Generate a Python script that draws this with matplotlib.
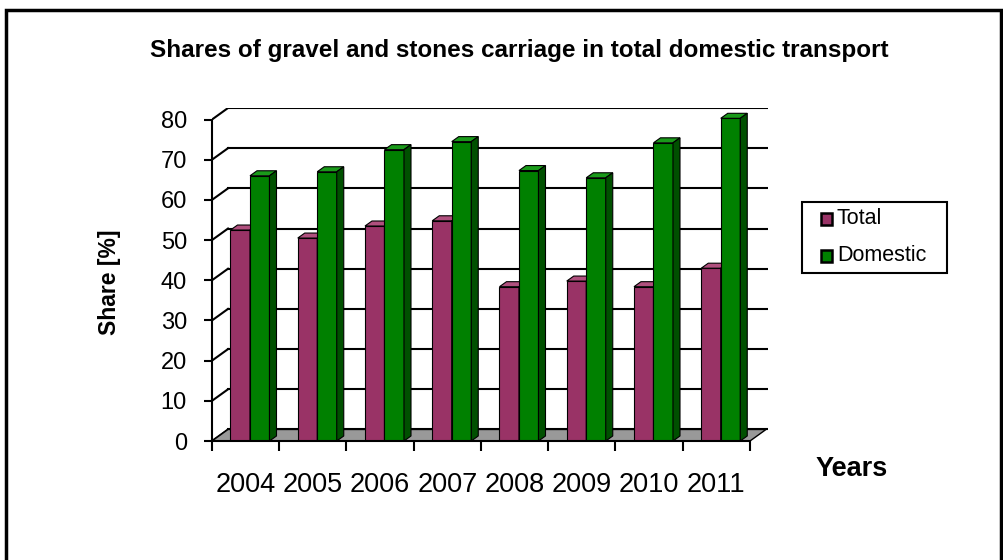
import matplotlib
matplotlib.use("Agg")
import matplotlib.pyplot as plt
from matplotlib.patches import Polygon, Rectangle
from matplotlib.lines import Line2D

plt.rcParams["font.family"] = ["Liberation Sans", "DejaVu Sans"]

# data
years = ["2004", "2005", "2006", "2007", "2008", "2009", "2010", "2011"]
total = [52.5, 50.5, 53.5, 54.8, 38.4, 39.8, 38.4, 43.0]
domestic = [66.0, 67.0, 72.5, 74.5, 67.3, 65.5, 74.2, 80.3]
y_ticks = [0, 10, 20, 30, 40, 50, 60, 70, 80]
series_names = ["Total", "Domestic"]

# colours (front, top, side)
pink = ("#993366", "#b0507e", "#6e2449")
green = ("#008000", "#1a9a1a", "#005000")
floor_col = "#999999"

W, H = 1004, 560
fig = plt.figure(figsize=(W / 100, H / 100), dpi=100)

# axes box placed in pixels: left 212, right 768, front floor at 441, top 108
px_l, px_r, px_b, px_t = 212, 768, 441, 108
ax = fig.add_axes([px_l / W, (H - px_b) / H, (px_r - px_l) / W, (px_b - px_t) / H])

n = len(years)
xpu = (750 - 212) / n          # pixels per category
ypu = (441 - 120) / 80.0       # pixels per percent
dx, dy = 16 / xpu, 11.5 / ypu  # wall depth in data units
bdx, bdy = 7 / xpu, 5 / ypu    # bar depth in data units
bw = 0.29
xmax = n - 0.5 + (px_r - 750) / xpu

ax.set_xlim(-0.5, xmax)
ax.set_ylim(0, 80 + dy)

# back wall gridlines + left wall diagonals
for v in y_ticks:
    ax.add_line(Line2D([-0.5 + dx, xmax], [v + dy, v + dy], color="black", lw=1.5, zorder=1))
    ax.add_line(Line2D([-0.5, -0.5 + dx], [v, v + dy], color="black", lw=1.5, zorder=1))

# floor
ax.add_patch(Polygon([(-0.5, 0), (n - 0.5, 0), (n - 0.5 + dx, dy), (-0.5 + dx, dy)],
                     closed=True, facecolor=floor_col, edgecolor="black", lw=1, zorder=2))


def bar3d(x0, h, cols):
    ax.add_patch(Rectangle((x0, 0), bw, h, facecolor=cols[0], edgecolor="black", lw=0.8, zorder=3))
    ax.add_patch(Polygon([(x0, h), (x0 + bw, h), (x0 + bw + bdx, h + bdy), (x0 + bdx, h + bdy)],
                         closed=True, facecolor=cols[1], edgecolor="black", lw=0.8, zorder=3))
    ax.add_patch(Polygon([(x0 + bw, 0), (x0 + bw + bdx, bdy), (x0 + bw + bdx, h + bdy), (x0 + bw, h)],
                         closed=True, facecolor=cols[2], edgecolor="black", lw=0.8, zorder=3))


for i in range(n):
    bar3d(i - 0.08 - bw / 2, total[i], pink)
    bar3d(i - 0.08 + bw / 2, domestic[i], green)

# axes lines and ticks
for s in ["top", "right"]:
    ax.spines[s].set_visible(False)
ax.spines["left"].set_bounds(0, 80)
ax.spines["bottom"].set_bounds(-0.5, n - 0.5)
for s in ["left", "bottom"]:
    ax.spines[s].set_linewidth(1.5)
    ax.spines[s].set_zorder(4)

ax.set_yticks(y_ticks)
ax.set_yticklabels([str(v) for v in y_ticks], fontsize=17)
ax.tick_params(axis="y", length=6, width=1.5, pad=12)

ax.set_xticks([i - 0.5 for i in range(n + 1)])
ax.set_xticklabels([])
ax.set_xticks(range(n), minor=True)
ax.set_xticklabels(years, minor=True, fontsize=19.5)
ax.tick_params(axis="x", which="major", length=7, width=1.5)
ax.tick_params(axis="x", which="minor", length=0, pad=22)

ax.set_facecolor("none")

# titles
fig.text(0.517, 1 - 50 / H, "Shares of gravel and stones carriage in total domestic transport",
         ha="center", va="center", fontsize=17.5, fontweight="bold")
fig.text(110 / W, 1 - 282 / H, "Share [%]", rotation=90, ha="center", va="center",
         fontsize=16.5, fontweight="bold")
fig.text(852 / W, 1 - 469 / H, "Years", ha="center", va="center", fontsize=19.5, fontweight="bold")

# legend, laid out like the Excel one (frame, small squares, labels)
fig.patches.append(Rectangle((802 / W, 1 - 273 / H), 145 / W, 71 / H, transform=fig.transFigure,
                             fill=False, edgecolor="black", lw=1.5))
for k, (name, cols) in enumerate(zip(series_names, [pink, green])):
    yc = 219 + k * 37
    fig.patches.append(Rectangle((821 / W, 1 - (yc + 5.5) / H), 11 / W, 11 / H,
                                 transform=fig.transFigure, facecolor=cols[0],
                                 edgecolor="black", lw=1.8))
    fig.text(837 / W, 1 - yc / H, name, ha="left", va="center", fontsize=15.5)

# outer chart border
fig.patches.append(Rectangle((6 / W, -0.05), (1001 - 6) / W, 1.05 - 10 / H, transform=fig.transFigure,
                             fill=False, edgecolor="black", lw=2.5))

fig.savefig("out.png", dpi=100)
